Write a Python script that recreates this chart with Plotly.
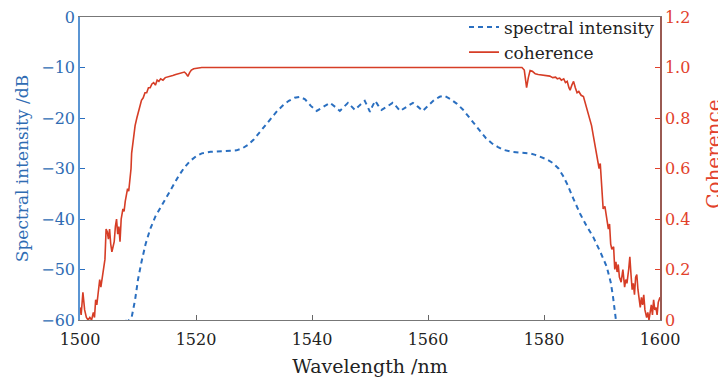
import plotly.graph_objects as go

# Spectral intensity (dB) vs wavelength (nm)
spec_wl = [1506.8, 1507.5, 1508.2, 1508.9, 1509.5, 1510.0, 1510.6, 1511.3, 1512.1, 1513.0,
           1514.0, 1515.0, 1516.0, 1517.0, 1518.0, 1519.0, 1520.0, 1521.0, 1522.5, 1524.0,
           1525.5, 1527.0, 1528.0, 1529.0, 1530.0, 1531.0, 1532.0, 1533.0, 1534.0, 1535.0,
           1536.0, 1537.0, 1537.9, 1538.8, 1539.8, 1540.8, 1542.0, 1543.1, 1544.0, 1544.8,
           1545.5, 1546.2, 1546.8, 1547.4, 1548.2, 1549.1, 1549.6, 1550.0, 1550.4, 1550.9,
           1551.4, 1552.0, 1553.0, 1553.9, 1554.6, 1555.2, 1556.3, 1557.4, 1558.3, 1559.1,
           1560.0, 1561.0, 1562.0, 1562.8, 1563.8, 1565.0, 1566.0, 1567.0, 1568.0, 1569.0,
           1570.0, 1571.0, 1572.0, 1573.0, 1574.5, 1576.0, 1577.5, 1578.5, 1579.5, 1580.5,
           1581.5, 1582.5, 1583.3, 1584.0, 1585.0, 1586.2, 1587.3, 1588.5, 1589.7, 1590.8,
           1591.5, 1591.9, 1592.4, 1592.8]
spec_db = [-61.0, -59.9, -60.3, -59.5, -56.0, -52.0, -48.5, -45.0, -42.0, -39.5,
           -37.5, -35.5, -33.5, -31.5, -29.8, -28.5, -27.6, -27.0, -26.7, -26.6,
           -26.6, -26.4, -26.0, -25.3, -24.2, -22.8, -21.3, -19.9, -18.6, -17.5,
           -16.6, -16.0, -15.8, -16.3, -17.6, -18.6, -17.8, -17.0, -17.8, -18.6,
           -17.8, -17.0, -17.7, -18.4, -17.5, -16.6, -17.8, -18.8, -17.7, -16.6,
           -17.5, -18.4, -17.7, -17.0, -17.8, -18.6, -17.8, -17.0, -17.8, -18.6,
           -17.6, -16.5, -15.8, -15.6, -16.2, -17.2, -18.3, -19.8, -21.2, -22.6,
           -24.0, -25.0, -25.7, -26.3, -26.7, -26.8, -27.0, -27.3, -27.7, -28.2,
           -28.9, -30.0, -31.5, -33.1, -35.8, -38.9, -41.3, -43.6, -46.5, -49.4,
           -52.5, -55.4, -60.0, -63.0]

# Coherence vs wavelength (nm)
coh_wl = [1500.0, 1500.2, 1500.5, 1500.8, 1501.1, 1501.4, 1501.7, 1502.0, 1502.3, 1502.5,
          1502.7, 1502.9, 1503.1, 1503.4, 1503.6, 1503.9, 1504.1, 1504.3, 1504.5, 1504.7,
          1504.9, 1505.1, 1505.3, 1505.5, 1505.7, 1505.9, 1506.1, 1506.3, 1506.5, 1506.7,
          1506.9, 1507.1, 1507.4, 1507.6, 1507.8, 1508.0, 1508.2, 1508.4, 1508.6, 1508.8,
          1508.9, 1509.1, 1509.3, 1509.5, 1509.8, 1510.1, 1510.4, 1510.6, 1510.9, 1511.2,
          1511.5, 1511.8, 1512.1, 1512.4, 1512.7, 1513.0, 1513.3, 1513.6, 1513.9, 1514.3,
          1514.7, 1515.1, 1515.5, 1516.0, 1516.5, 1517.0, 1517.5, 1518.0, 1518.3, 1518.6,
          1518.9, 1519.2, 1519.6, 1520.2, 1521.0, 1548.0,
          1576.2, 1576.6, 1577.0, 1577.3, 1577.6, 1578.0, 1578.5, 1579.0, 1579.5, 1580.0,
          1580.5, 1581.0, 1581.5, 1582.0, 1582.3, 1582.7, 1583.0, 1583.4, 1583.7, 1584.0,
          1584.3, 1584.5, 1584.8, 1585.1, 1585.4, 1585.7, 1586.0, 1586.4, 1586.8, 1587.1,
          1587.4, 1587.7, 1588.0, 1588.2, 1588.5, 1588.8, 1589.0, 1589.3, 1589.5, 1589.7,
          1589.9, 1590.1, 1590.2, 1590.5, 1590.8, 1591.1, 1591.3, 1591.5, 1591.7, 1592.0,
          1592.2, 1592.4, 1592.6, 1592.8, 1593.0, 1593.3, 1593.6, 1593.9, 1594.1, 1594.3,
          1594.6, 1594.8, 1595.0, 1595.2, 1595.4, 1595.6, 1595.8, 1596.0, 1596.2, 1596.4,
          1596.6, 1596.8, 1597.0, 1597.2, 1597.4, 1597.7, 1597.9, 1598.1, 1598.3, 1598.5,
          1598.7, 1598.9, 1599.1, 1599.3, 1599.5, 1599.7, 1600.0]
coh_val = [0.05, 0.02, 0.11, 0.04, 0.01, 0.00, 0.01, 0.00, 0.03, 0.01,
           0.08, 0.06, 0.10, 0.16, 0.13, 0.17, 0.21, 0.24, 0.36, 0.35,
           0.32, 0.36, 0.30, 0.27, 0.29, 0.31, 0.37, 0.40, 0.34, 0.37,
           0.31, 0.40, 0.44, 0.43, 0.47, 0.49, 0.52, 0.51, 0.56, 0.60,
           0.66, 0.70, 0.74, 0.77, 0.80, 0.83, 0.85, 0.87, 0.88, 0.90,
           0.90, 0.92, 0.92, 0.935, 0.94, 0.93, 0.95, 0.945, 0.955, 0.95,
           0.96, 0.962, 0.965, 0.968, 0.972, 0.975, 0.98, 0.982, 0.975, 0.965,
           0.98, 0.99, 0.995, 0.998, 1.0, 1.0,
           1.0, 0.99, 0.92, 0.96, 0.988, 0.985, 0.975, 0.972, 0.97, 0.968,
           0.965, 0.966, 0.96, 0.962, 0.955, 0.958, 0.95, 0.955, 0.94, 0.945,
           0.92, 0.91, 0.93, 0.945, 0.92, 0.90, 0.905, 0.89, 0.885, 0.86,
           0.845, 0.82, 0.79, 0.77, 0.73, 0.69, 0.67, 0.63, 0.60, 0.62,
           0.56, 0.50, 0.44, 0.45, 0.41, 0.36, 0.38, 0.30, 0.28, 0.29,
           0.20, 0.23, 0.19, 0.22, 0.17, 0.15, 0.20, 0.13, 0.16, 0.145,
           0.20, 0.25, 0.18, 0.12, 0.145, 0.10, 0.17, 0.18, 0.12, 0.07,
           0.05, 0.09, 0.06, 0.10, 0.04, 0.01, 0.03, 0.00, 0.03, 0.06,
           0.02, 0.08, 0.04, 0.05, 0.02, 0.07, 0.09]

x_ticks = [1500, 1520, 1540, 1560, 1580, 1600]
y1_ticks = [-60, -50, -40, -30, -20, -10, 0]
y2_ticks = [0, 0.2, 0.4, 0.6, 0.8, 1.0, 1.2]
y2_text = ["0", "0.2", "0.4", "0.6", "0.8", "1.0", "1.2"]

BLUE = "#2f6cb3"
BLUE_LINE = "#2a6fc0"
RED = "#e2412b"
RED_LINE = "#d63d26"
FONT = "DejaVu Serif"

fig = go.Figure()
fig.add_trace(go.Scatter(x=spec_wl, y=spec_db, mode="lines", name="spectral intensity",
                         line=dict(color=BLUE_LINE, width=2, dash="5px,4px"), yaxis="y"))
fig.add_trace(go.Scatter(x=coh_wl, y=coh_val, mode="lines", name="coherence",
                         line=dict(color=RED_LINE, width=1.6), yaxis="y2"))

fig.update_layout(
    width=718, height=378,
    margin=dict(l=80, r=58, t=17, b=58, autoexpand=False),
    paper_bgcolor="white", plot_bgcolor="white",
    font=dict(family=FONT, size=16, color="#222"),
    showlegend=True,
    legend=dict(x=1.0, xanchor="right", y=1.025, yanchor="top",
                bgcolor="rgba(0,0,0,0)", font=dict(size=17, color="#222"),
                tracegroupgap=0, itemwidth=30),
    xaxis=dict(range=[1500, 1600], tickvals=x_ticks, ticks="inside", ticklen=5,
               tickcolor="#666", showline=True, linecolor="#777", linewidth=1.2,
               mirror=True, showgrid=False, zeroline=False, automargin=False,
               ticklabelstandoff=5,
               tickfont=dict(size=16, color="#222"),
               title=dict(text="Wavelength /nm", font=dict(size=19, color="#222"), standoff=11)),
    yaxis=dict(range=[-60, 0], tickvals=y1_ticks, ticks="inside", ticklen=5,
               tickcolor=BLUE_LINE, showline=True, linecolor="#5b95d3", linewidth=1.5,
               showgrid=False, zeroline=False, automargin=False,
               tickfont=dict(size=16, color=BLUE),
               title=dict(text="Spectral intensity /dB", font=dict(size=17, color=BLUE), standoff=8)),
    yaxis2=dict(range=[0, 1.2], tickvals=y2_ticks, ticktext=y2_text, overlaying="y",
                side="right", ticks="inside", ticklen=5, tickcolor=RED,
                showline=True, linecolor="#9a5a52", linewidth=1.5,
                showgrid=False, zeroline=False, automargin=False,
                tickfont=dict(size=16, color=RED)),
    annotations=[dict(text="Coherence", xref="paper", yref="paper", x=1.0, y=0.545,
                      xanchor="center", yanchor="middle", xshift=54, textangle=-90,
                      showarrow=False, font=dict(size=20, color=RED, family=FONT))],
)

fig.write_html("out.html")
